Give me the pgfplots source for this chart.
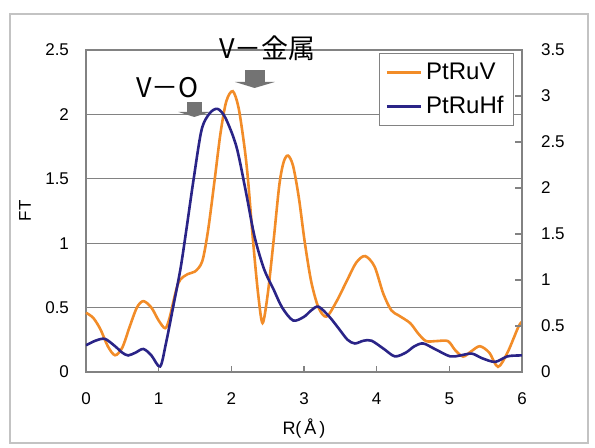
\documentclass[border=0pt]{standalone}
\usepackage{pgfplots}
\pgfplotsset{compat=1.18}
\usepackage{fontspec}
\setmainfont{Liberation Sans}
\newfontfamily\jp{Noto Sans CJK JP}
\definecolor{ftorange}{RGB}{242,140,40}
\definecolor{ftblue}{RGB}{42,36,135}
\definecolor{gridgray}{RGB}{130,130,130}
\definecolor{framegray}{RGB}{195,195,195}
\definecolor{arrowgray}{RGB}{115,115,115}

\begin{document}
\begin{tikzpicture}
\useasboundingbox (-43pt,-38pt) rectangle (254.5pt,186pt);
\draw[framegray, line width=1.2pt] (-38pt,-35.5pt) rectangle (251pt,179pt);

% left axis: PtRuV
\begin{axis}[
    at={(0,0)}, anchor=south west,
    scale only axis, width=218pt, height=161pt,
    xmin=0, xmax=6, ymin=0, ymax=2.5,
    xtick={0,1,...,6}, ytick={0,0.5,...,2.5},
    ymajorgrids, grid style={gridgray, line width=0.6pt},
    axis line style={gridgray, line width=0.7pt},
    xtick pos=bottom, xtick align=inside, major tick length=3pt,
    ytick style={draw=none},
    tick style={gridgray, line width=0.6pt},
    /pgf/number format/assume math mode=true,
    tick label style={font=\fontsize{8.5}{10}\selectfont},
    yticklabel style={xshift=-5pt},
    xticklabel style={yshift=-7pt},
    xlabel={R(\,Å\,)},
    xlabel style={at={(axis description cs:0.5,-0.177)}, anchor=center, font=\fontsize{9}{10}\selectfont},
    ylabel={FT},
    ylabel style={at={(axis description cs:-0.14,0.5)}, anchor=center, font=\fontsize{8.5}{10}\selectfont},
    clip=false,
]
\addplot[ftorange, line width=1.3pt, smooth, tension=0.5] coordinates {
(0.00,0.46) (0.10,0.42) (0.20,0.33) (0.30,0.20) (0.40,0.13) (0.50,0.19)
(0.60,0.35) (0.70,0.50) (0.79,0.55) (0.90,0.50) (1.00,0.40) (1.09,0.34)
(1.15,0.42) (1.27,0.69) (1.40,0.76) (1.50,0.78) (1.60,0.86) (1.68,1.10)
(1.77,1.49) (1.85,1.85) (1.93,2.10) (2.02,2.18) (2.10,2.05) (2.18,1.75)
(2.23,1.49) (2.30,1.01) (2.37,0.60) (2.43,0.38) (2.50,0.60) (2.58,1.01)
(2.66,1.45) (2.72,1.63) (2.78,1.68) (2.85,1.60) (2.93,1.35) (3.01,1.01)
(3.10,0.70) (3.20,0.50) (3.31,0.43) (3.45,0.55) (3.60,0.72) (3.72,0.85)
(3.84,0.90) (3.97,0.82) (4.09,0.61) (4.20,0.48) (4.30,0.44) (4.46,0.38)
(4.57,0.30) (4.68,0.24) (4.82,0.24) (4.98,0.24) (5.08,0.17) (5.19,0.12)
(5.30,0.16) (5.42,0.20) (5.55,0.15) (5.67,0.04) (5.80,0.15) (5.95,0.35)
(6.00,0.39)
};
% annotation arrows and labels
\fill[arrowgray] (axis cs:1.39,2.096) rectangle (axis cs:1.60,2.019);
\fill[arrowgray] (axis cs:1.27,2.019) -- (axis cs:1.71,2.019) -- (axis cs:1.49,1.98) -- cycle;
\fill[arrowgray] (axis cs:2.19,2.345) rectangle (axis cs:2.46,2.252);
\fill[arrowgray] (axis cs:2.05,2.252) -- (axis cs:2.60,2.252) -- (axis cs:2.32,2.205) -- cycle;
\node[font=\jp\fontsize{13.5}{15}\selectfont, inner sep=0pt] at (axis cs:1.12,2.21) {V－O};
\node[font=\jp\fontsize{13.5}{15}\selectfont, inner sep=0pt] at (axis cs:2.50,2.51) {V－金属};
\end{axis}

% right axis: PtRuHf
\begin{axis}[
    at={(0,0)}, anchor=south west,
    scale only axis, width=218pt, height=161pt,
    xmin=0, xmax=6, ymin=0, ymax=3.5,
    axis x line=none, axis y line*=right,
    ytick={0,0.5,...,3.5},
    axis line style={gridgray, line width=0.7pt},
    ytick align=inside, major tick length=3.5pt,
    tick style={gridgray, line width=0.6pt},
    /pgf/number format/assume math mode=true,
    tick label style={font=\fontsize{8.5}{10}\selectfont},
    yticklabel style={xshift=6pt},
    legend style={at={(rel axis cs:0.982,0.99)}, anchor=north east,
        draw=gridgray, line width=0.6pt, fill=white,
        font=\fontsize{12}{14}\selectfont, row sep=3pt,
        inner xsep=3pt, inner ysep=2.5pt},
    legend cell align=left,
    legend image code/.code={\draw[#1] (0pt,0pt) -- (17pt,0pt);},
]
\addlegendimage{ftorange, line width=1.3pt}
\addlegendentry{PtRuV}
\addplot[ftblue, line width=1.3pt, smooth, tension=0.5] coordinates {
(0.00,0.29) (0.13,0.34) (0.26,0.36) (0.40,0.28) (0.50,0.21) (0.58,0.18)
(0.68,0.21) (0.79,0.25) (0.90,0.18) (1.02,0.06) (1.10,0.31) (1.20,0.71)
(1.30,1.12) (1.38,1.54) (1.48,2.09) (1.59,2.63) (1.70,2.81) (1.81,2.86)
(1.92,2.76) (2.07,2.45) (2.20,1.96) (2.32,1.47) (2.45,1.12) (2.58,0.90)
(2.70,0.70) (2.85,0.56) (3.00,0.60) (3.10,0.67) (3.20,0.71) (3.35,0.60)
(3.49,0.46) (3.60,0.35) (3.70,0.31) (3.82,0.34) (3.93,0.34) (4.10,0.25)
(4.25,0.17) (4.40,0.21) (4.52,0.28) (4.64,0.31) (4.80,0.25) (5.01,0.17)
(5.15,0.18) (5.31,0.20) (5.45,0.15) (5.63,0.11) (5.80,0.17) (5.97,0.18)
(6.00,0.18)
};
\addlegendentry{PtRuHf}
\end{axis}
\end{tikzpicture}
\end{document}
